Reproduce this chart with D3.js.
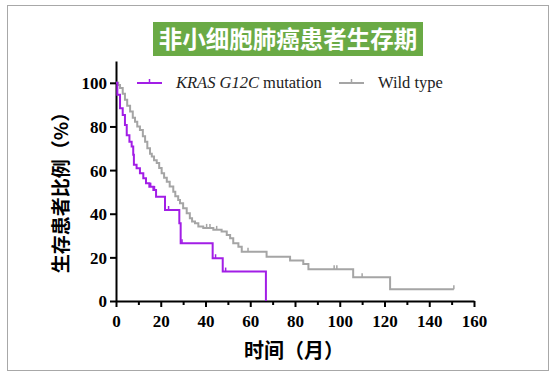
<!DOCTYPE html>
<html lang="zh">
<head>
<meta charset="UTF-8">
<title>非小细胞肺癌患者生存期</title>
<script src="https://d3js.org/d3.v7.min.js"></script>
<style>
  body { margin: 0; background: #fff; }
</style>
</head>
<body>
<div id="chart"></div>
<script>
// KRAS G12C mutation curve (months, % surviving)
const krasTime = [0, 0.6, 1.8, 3, 4, 4.8, 6, 7, 7.7, 8, 9.2, 10.7, 12.2, 13.4, 14.9, 16.7, 17.9, 21.9, 28.3, 28.9, 43.2, 47.7, 67];
const krasSurv = [100, 94.5, 88.4, 85.3, 80.7, 76, 73, 70.8, 67, 62.4, 60.9, 58.6, 56.3, 54, 52.4, 50.9, 47.8, 41.7, 35.6, 26.5, 19.6, 13.5, 0];
const krasCensor = [15.5, 17.2, 23.5, 29.5, 44.5, 49];

// Wild type curve
const wildTime = [0, 1, 1.8, 3, 4, 5, 6.3, 7.5, 8.5, 9.5, 10.7, 12, 13, 14, 15.2, 16, 17, 18.2, 19.3, 20.4, 21.5, 22.7, 24, 25.6, 26.5, 27.8, 28.6, 30, 31.6, 33, 34, 35.3, 36.8, 39, 43.5, 47.2, 49.5, 51, 52.4, 54.7, 56.2, 67.3, 77.8, 83.7, 86, 106, 122.5, 151];
const wildSurv = [100, 99, 97.6, 95, 92.2, 89.5, 86.8, 84, 82.2, 80, 78.4, 75.5, 73, 70, 67.5, 66.2, 64.5, 63.2, 61, 58.6, 56.5, 54.7, 52.5, 50.1, 48, 46.3, 44.8, 42.5, 40.2, 37.9, 36.4, 35.6, 34.1, 33.5, 32.6, 31.8, 30.3, 28.8, 26.5, 24.9, 22.6, 20.3, 18.6, 17, 14.5, 10.9, 5.4, 5.4];
const wildCensor = [40.5, 42, 45, 59, 97.5, 98.7, 110, 151];

const xTicks = [0, 20, 40, 60, 80, 100, 120, 140, 160];
const yTicks = [0, 20, 40, 60, 80, 100];

const purple = "#a21ee6";
const grey = "#a5a5a5";
const serif = "'Liberation Serif', 'Times New Roman', serif";
const cjk = "'Noto Sans CJK SC', sans-serif";

const W = 554, H = 376;
const svg = d3.select("#chart").append("svg")
    .attr("width", W)
    .attr("height", H);

// outer frame
svg.append("rect")
    .attr("x", 7.5).attr("y", 5.5)
    .attr("width", 541).attr("height", 365)
    .attr("fill", "none")
    .attr("stroke", "#a8a8a8")
    .attr("stroke-width", 1);

// title banner
svg.append("rect")
    .attr("x", 153).attr("y", 22)
    .attr("width", 270).attr("height", 34)
    .attr("fill", "#6aaa45");
svg.append("text")
    .attr("x", 288).attr("y", 47.5)
    .attr("text-anchor", "middle")
    .style("font-family", cjk)
    .attr("font-weight", "bold")
    .attr("font-size", 23.5)
    .attr("fill", "#fff")
    .text("非小细胞肺癌患者生存期");

const x = d3.scaleLinear().domain([0, 160]).range([116, 474]);
const y = d3.scaleLinear().domain([0, 110]).range([301, 61]);

// axes
const xAxis = svg.append("g")
    .attr("transform", "translate(0,301)")
    .call(d3.axisBottom(x).tickValues(xTicks).tickSize(6).tickSizeOuter(0).tickPadding(8));
const xMinor = svg.append("g")
    .attr("transform", "translate(0,301)")
    .call(d3.axisBottom(x).tickValues(d3.range(10, 160, 20)).tickSize(4).tickFormat("").tickSizeOuter(0));
xMinor.select(".domain").remove();

const yAxis = svg.append("g")
    .attr("transform", "translate(116,0)")
    .call(d3.axisLeft(y).tickValues(yTicks).tickSize(6).tickSizeOuter(0).tickPadding(3));

[xAxis, xMinor, yAxis].forEach(g => {
    g.selectAll("path, line").attr("stroke", "#000").attr("stroke-width", 2);
    g.selectAll("text")
        .style("font-family", serif)
        .style("font-weight", "bold")
        .style("font-size", "17px")
        .attr("fill", "#000");
});
yAxis.selectAll("text").attr("dy", "0.35em");

// axis titles
svg.append("text")
    .attr("transform", "translate(68,188) rotate(-90)")
    .attr("text-anchor", "middle")
    .style("font-family", cjk)
    .attr("font-weight", "bold")
    .attr("font-size", 19)
    .attr("fill", "#000")
    .text("生存患者比例（%）");
svg.append("text")
    .attr("x", 294).attr("y", 358)
    .attr("text-anchor", "middle")
    .style("font-family", cjk)
    .attr("font-weight", "bold")
    .attr("font-size", 20)
    .attr("fill", "#000")
    .text("时间（月）");

// survival curves
const line = d3.line()
    .x(d => x(d[0]))
    .y(d => y(d[1]))
    .curve(d3.curveStepAfter);

function stepValue(times, surv, t) {
    let v = surv[0];
    for (let i = 0; i < times.length; i++) if (times[i] <= t) v = surv[i];
    return v;
}

function drawCurve(times, surv, censor, color) {
    svg.append("path")
        .datum(times.map((t, i) => [t, surv[i]]))
        .attr("d", line)
        .attr("fill", "none")
        .attr("stroke", color)
        .attr("stroke-width", 2);
    svg.selectAll(null)
        .data(censor)
        .enter().append("line")
        .attr("x1", d => x(d)).attr("x2", d => x(d))
        .attr("y1", d => y(stepValue(times, surv, d)))
        .attr("y2", d => y(stepValue(times, surv, d)) - 4)
        .attr("stroke", color)
        .attr("stroke-width", 1.5);
}
drawCurve(wildTime, wildSurv, wildCensor, grey);
drawCurve(krasTime, krasSurv, krasCensor, purple);

// legend
const legend = [
    { x: 137, color: purple, label: "mutation", italic: "KRAS G12C " },
    { x: 339, color: grey, label: "Wild type", italic: "" }
];
legend.forEach(l => {
    svg.append("line")
        .attr("x1", l.x).attr("x2", l.x + 25)
        .attr("y1", 83).attr("y2", 83)
        .attr("stroke", l.color).attr("stroke-width", 2);
    svg.append("line")
        .attr("x1", l.x + 12.5).attr("x2", l.x + 12.5)
        .attr("y1", 83).attr("y2", 79)
        .attr("stroke", l.color).attr("stroke-width", 1.5);
    const t = svg.append("text")
        .attr("x", l.x + 39).attr("y", 88)
        .style("font-family", serif)
        .attr("font-size", 16.5)
        .attr("fill", "#222");
    if (l.italic) t.append("tspan").attr("font-style", "italic").text(l.italic);
    t.append("tspan").text(l.label);
});
</script>
</body>
</html>
